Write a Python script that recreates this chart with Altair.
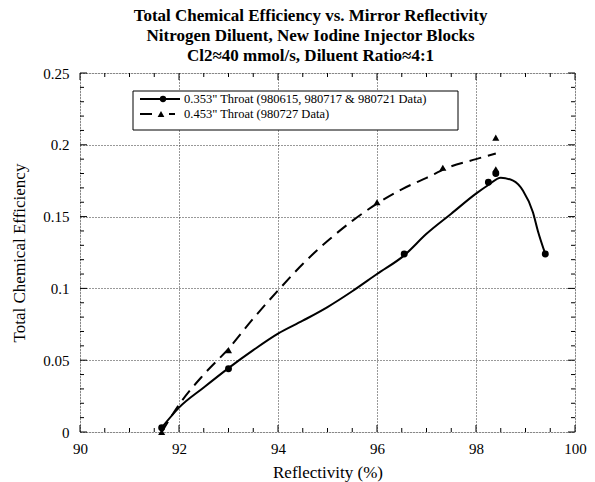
import altair as alt
import pandas as pd

# ---- data ----
title_lines = [
    "Total Chemical Efficiency vs. Mirror Reflectivity",
    "Nitrogen Diluent, New Iodine Injector Blocks",
    "Cl2\u224840 mmol/s, Diluent Ratio\u22484:1",
]
series_labels = [
    "0.353\" Throat (980615, 980717 & 980721 Data)",
    "0.453\" Throat (980727 Data)",
]

# smoothed fit curves
solid_curve_x = [91.65, 92.0, 92.5, 93.0, 93.5, 94.0, 94.5, 95.0, 95.5, 96.0, 96.55,
                 97.0, 97.5, 98.0, 98.25, 98.5, 98.75, 98.95, 99.15, 99.25, 99.4]
solid_curve_y = [0.003, 0.017, 0.031, 0.0445, 0.057, 0.0685, 0.0775, 0.087, 0.098, 0.110, 0.123,
                 0.138, 0.152, 0.166, 0.172, 0.177, 0.175, 0.168, 0.153, 0.140, 0.124]
dashed_curve_x = [91.65, 92.0, 92.5, 93.0, 93.5, 94.0, 94.5, 95.0, 95.5, 96.0, 96.5,
                  97.0, 97.5, 98.0, 98.4]
dashed_curve_y = [0.0, 0.019, 0.040, 0.058, 0.079, 0.0985, 0.117, 0.133, 0.147, 0.159, 0.169,
                  0.177, 0.185, 0.190, 0.194]

# measured points
solid_pts_x = [91.65, 93.0, 96.55, 98.25, 98.4, 99.4]
solid_pts_y = [0.003, 0.044, 0.124, 0.174, 0.180, 0.124]
dashed_pts_x = [91.65, 93.0, 96.0, 97.33, 98.4, 98.4]
dashed_pts_y = [0.0, 0.057, 0.160, 0.184, 0.205, 0.183]

x_major = [90, 92, 94, 96, 98, 100]
y_major = [0, 0.05, 0.1, 0.15, 0.2, 0.25]
x_minor = [90.5, 91, 91.5, 92.5, 93, 93.5, 94.5, 95, 95.5, 96.5, 97, 97.5, 98.5, 99, 99.5]
y_minor = [0.01, 0.02, 0.03, 0.04, 0.06, 0.07, 0.08, 0.09, 0.11, 0.12, 0.13, 0.14,
           0.16, 0.17, 0.18, 0.19, 0.21, 0.22, 0.23, 0.24]

W, H = 495, 359
SERIF = "Liberation Serif"

xs = alt.Scale(domain=[90, 100], nice=False, zero=False)
ys = alt.Scale(domain=[0, 0.25], nice=False, zero=False)

x_axis = alt.Axis(values=x_major, format="d", grid=True, gridDash=[1, 2], gridColor="#333",
                  gridWidth=1, ticks=False, domain=False, labelFlush=False, labelFont=SERIF,
                  labelFontSize=15, labelColor="black", labelPadding=9, titleFont=SERIF,
                  titleFontSize=17, titleFontWeight="normal", titleColor="black", titlePadding=8)
y_axis = alt.Axis(values=y_major, format="~g", grid=True, gridDash=[1, 2], gridColor="#333",
                  gridWidth=1, ticks=False, domain=False, labelFlush=False, labelFont=SERIF,
                  labelFontSize=15, labelColor="black", labelPadding=11, titleFont=SERIF,
                  titleFontSize=17, titleFontWeight="normal", titleColor="black", titlePadding=14)

X = alt.X("x:Q", scale=xs, axis=x_axis, title="Reflectivity (%)")
Y = alt.Y("y:Q", scale=ys, axis=y_axis, title="Total Chemical Efficiency")
Xp = alt.X("x:Q", scale=xs)
Yp = alt.Y("y:Q", scale=ys)

c1 = pd.DataFrame({"x": solid_curve_x, "y": solid_curve_y})
c2 = pd.DataFrame({"x": dashed_curve_x, "y": dashed_curve_y})
p1 = pd.DataFrame({"x": solid_pts_x, "y": solid_pts_y})
p2 = pd.DataFrame({"x": dashed_pts_x, "y": dashed_pts_y})

solid_line = alt.Chart(c1).mark_line(color="black", strokeWidth=2, interpolate="monotone").encode(x=X, y=Y)
dashed_line = alt.Chart(c2).mark_line(color="black", strokeWidth=2, strokeDash=[12, 7],
                                      interpolate="monotone").encode(x=Xp, y=Yp)
solid_pts = alt.Chart(p1).mark_point(filled=True, shape="circle", size=48, color="black",
                                     opacity=1).encode(x=Xp, y=Yp)
dashed_pts = alt.Chart(p2).mark_point(filled=True, shape="triangle-up", size=50, color="black",
                                      opacity=1).encode(x=Xp, y=Yp)

# inward tick marks on all four sides
xmaj = pd.DataFrame({"x": x_major})
xmin = pd.DataFrame({"x": x_minor})
ymaj = pd.DataFrame({"y": y_major})
ymin = pd.DataFrame({"y": y_minor})
ticks = []
for df, ln in [(xmaj, 7), (xmin, 4)]:
    ticks.append(alt.Chart(df).mark_rule(color="black", strokeWidth=1).encode(
        x=Xp, y=alt.value(H), y2=alt.value(H - ln)))
    ticks.append(alt.Chart(df).mark_rule(color="black", strokeWidth=1).encode(
        x=Xp, y=alt.value(0), y2=alt.value(ln)))
for df, ln in [(ymaj, 7), (ymin, 4)]:
    ticks.append(alt.Chart(df).mark_rule(color="black", strokeWidth=1).encode(
        y=Yp, x=alt.value(0), x2=alt.value(ln)))
    ticks.append(alt.Chart(df).mark_rule(color="black", strokeWidth=1).encode(
        y=Yp, x=alt.value(W), x2=alt.value(W - ln)))

# legend drawn by hand
one = pd.DataFrame({"k": [0]})
ROW1, ROW2 = 26, 41
leg = [
    alt.Chart(one).mark_rect(fill="white", stroke="black", strokeWidth=1).encode(
        x=alt.value(53), x2=alt.value(378), y=alt.value(18), y2=alt.value(57)),
    alt.Chart(one).mark_rule(color="black", strokeWidth=2).encode(
        x=alt.value(60), x2=alt.value(100), y=alt.value(ROW1)),
    alt.Chart(one).mark_point(filled=True, shape="circle", size=40, color="black", opacity=1).encode(
        x=alt.value(83), y=alt.value(ROW1)),
    alt.Chart(one).mark_rule(color="black", strokeWidth=2).encode(
        x=alt.value(60), x2=alt.value(72), y=alt.value(ROW2)),
    alt.Chart(one).mark_rule(color="black", strokeWidth=2).encode(
        x=alt.value(89), x2=alt.value(95), y=alt.value(ROW2)),
    alt.Chart(one).mark_point(filled=True, shape="triangle-up", size=45, color="black", opacity=1).encode(
        x=alt.value(81), y=alt.value(ROW2)),
    alt.Chart(one).mark_text(align="left", baseline="middle", font=SERIF, fontSize=12.5, color="black").encode(
        x=alt.value(104), y=alt.value(ROW1), text=alt.value(series_labels[0])),
    alt.Chart(one).mark_text(align="left", baseline="middle", font=SERIF, fontSize=12.5, color="black").encode(
        x=alt.value(104), y=alt.value(ROW2), text=alt.value(series_labels[1])),
]

chart = alt.layer(solid_line, dashed_line, *ticks, solid_pts, dashed_pts, *leg).properties(
    width=W, height=H,
    padding={"left": 80, "top": 73, "right": 20, "bottom": 50},
    autosize=alt.AutoSizeParams(type="none"),
    title=alt.TitleParams(text=title_lines, font=SERIF, fontSize=17, fontWeight="bold",
                          anchor="middle", lineHeight=20, offset=1, dx=-17, color="black"),
).configure_view(stroke="black", strokeWidth=1.2).configure(background="white")

chart.save("out.html", embed_options={"renderer": "svg", "actions": False})
